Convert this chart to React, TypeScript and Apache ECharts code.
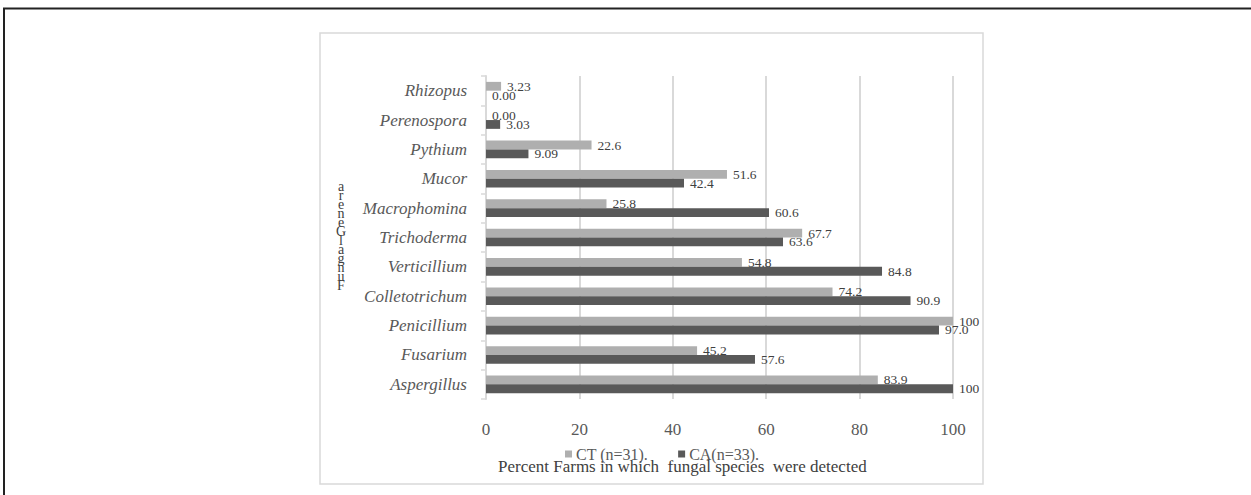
import React, { useEffect, useRef } from "react";
import * as echarts from "echarts";

const categories = [
  "Aspergillus",
  "Fusarium",
  "Penicillium",
  "Colletotrichum",
  "Verticillium",
  "Trichoderma",
  "Macrophomina",
  "Mucor",
  "Pythium",
  "Perenospora",
  "Rhizopus",
];
const ctValues = [83.9, 45.2, 100, 74.2, 54.8, 67.7, 25.8, 51.6, 22.6, 0.0, 3.23];
const caValues = [100, 57.6, 97.0, 90.9, 84.8, 63.6, 60.6, 42.4, 9.09, 3.03, 0.0];
const seriesNames = ["CT (n=31).", "CA(n=33)."];
const xTicks = [0, 20, 40, 60, 80, 100];
const yTitleLetters = ["a", "r", "e", "n", "e", "G", "l", "a", "g", "n", "u", "F"];
const xTitle = "Percent Farms in which  fungal species  were detected";

const fmt = (v: number) => (v === 100 ? "100" : v < 10 ? v.toFixed(2) : v.toFixed(1));

export default function App() {
  const ref = useRef<HTMLDivElement>(null);
  useEffect(() => {
    if (!ref.current) return;
    const chart = echarts.init(ref.current, null, { renderer: "svg" });
    const font = "Liberation Serif";
    const labelStyle = {
      show: true,
      position: "right" as const,
      distance: 6,
      color: "#404040",
      fontFamily: font,
      fontSize: 13.5,
      formatter: (p: any) => fmt(p.value),
    };
    chart.setOption({
      animation: false,
      backgroundColor: "#ffffff",
      textStyle: { fontFamily: font },
      grid: { left: 486, top: 76, width: 467, height: 323, containLabel: false },
      legend: {
        data: seriesNames,
        left: 560,
        top: 441,
        itemWidth: 7,
        itemHeight: 7,
        itemGap: 30,
        icon: "rect",
        textStyle: { fontFamily: font, fontSize: 16, color: "#595959", padding: [0, 0, 0, -1] },
      },
      xAxis: {
        type: "value",
        min: xTicks[0],
        max: xTicks[xTicks.length - 1],
        interval: 20,
        axisLine: { show: false },
        axisTick: { show: false },
        splitLine: { show: true, lineStyle: { color: "#d9d9d9", width: 2 } },
        axisLabel: { color: "#595959", fontSize: 17, fontFamily: font, margin: 22 },
      },
      yAxis: {
        type: "category",
        data: categories,
        axisLine: { show: true, lineStyle: { color: "#d9d9d9", width: 2 } },
        axisTick: { show: true, length: 5, lineStyle: { color: "#d9d9d9", width: 1.5 } },
        axisLabel: {
          color: "#595959",
          fontSize: 17,
          fontStyle: "italic",
          fontFamily: font,
          margin: 19,
        },
      },
      series: [
        {
          name: seriesNames[0],
          type: "bar",
          data: ctValues,
          itemStyle: { color: "#afafaf" },
          barGap: "0%",
          barCategoryGap: "40%",
          label: labelStyle,
        },
        {
          name: seriesNames[1],
          type: "bar",
          data: caValues,
          itemStyle: { color: "#595959" },
          barGap: "0%",
          barCategoryGap: "40%",
          label: labelStyle,
        },
      ],
      graphic: [
        {
          type: "line",
          shape: { x1: 3, y1: 8.5, x2: 1251, y2: 8.5 },
          style: { stroke: "#222222", lineWidth: 2 },
        },
        {
          type: "line",
          shape: { x1: 4, y1: 8, x2: 4, y2: 495 },
          style: { stroke: "#222222", lineWidth: 2 },
        },
        {
          type: "rect",
          shape: { x: 320, y: 33, width: 663, height: 451 },
          style: { fill: "none", stroke: "#d9d9d9", lineWidth: 1.5 },
        },
        {
          type: "text",
          x: 341,
          y: 182,
          style: {
            text: yTitleLetters.join("\n"),
            fontFamily: font,
            fontSize: 14,
            lineHeight: 9,
            fill: "#404040",
            align: "center",
          },
        },
        {
          type: "text",
          x: 498,
          y: 458,
          style: {
            text: xTitle,
            fontFamily: font,
            fontSize: 17,
            fill: "#404040",
          },
        },
      ],
    });
    return () => chart.dispose();
  }, []);
  return (
    <div
      ref={ref}
      style={{ position: "fixed", left: 0, top: 0, width: 1251, height: 495, background: "#fff" }}
    />
  );
}
